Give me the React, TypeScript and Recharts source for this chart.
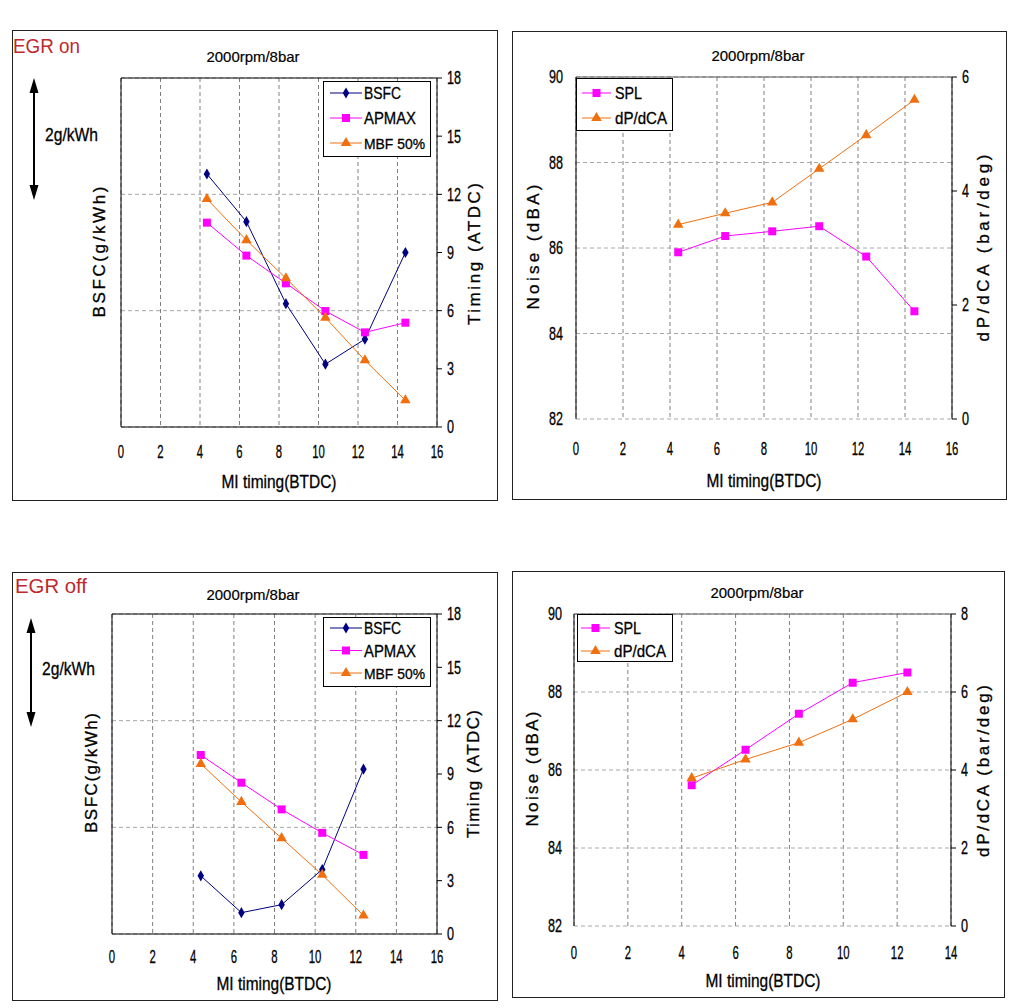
import React from 'react';
import { LineChart, Line, XAxis, YAxis, CartesianGrid, ReferenceLine, Legend, Symbols } from 'recharts';

const FONT = "'Liberation Sans', Arial, sans-serif";

const BSFC_C = '#000080';
const MAG_C = '#ff00ff';
const ORG_C = '#f07010';

// ---------- EGR on ----------
const egrOnMi = [4.35, 6.35, 8.35, 10.35, 12.35, 14.4];
// BSFC relative to an arbitrary baseline (g/kWh), gridlines every 2 g/kWh
const egrOnBsfc = [4.35, 3.53, 2.12, 1.08, 1.51, 3.0];
const egrOnApmax = [10.54, 8.84, 7.41, 5.98, 4.88, 5.38];
const egrOnMbf50 = [11.76, 9.64, 7.67, 5.64, 3.44, 1.38];
const egrOnSpl = [85.9, 86.28, 86.39, 86.51, 85.8, 84.52];
const egrOnDpdca = [3.41, 3.61, 3.8, 4.39, 4.98, 5.6];

// ---------- EGR off ----------
const egrOffMi = [4.37, 6.37, 8.35, 10.35, 12.38];
const egrOffBsfc = [1.09, 0.4, 0.55, 1.21, 3.09];
const egrOffApmax = [10.07, 8.51, 7.01, 5.69, 4.45];
const egrOffMbf50 = [9.57, 7.43, 5.39, 3.33, 1.04];
const egrOffSpl = [85.61, 86.52, 87.44, 88.24, 88.5];
const egrOffDpdca = [3.79, 4.27, 4.7, 5.3, 6.0];

// ---------- ticks ----------
const xTicks16 = [0, 2, 4, 6, 8, 10, 12, 14, 16];
const xTicks14 = [0, 2, 4, 6, 8, 10, 12, 14];
const bsfcTicks = [0, 2, 4, 6];
const timingTicks = [0, 3, 6, 9, 12, 15, 18];
const noiseTicks = [82, 84, 86, 88, 90];
const dpTicks6 = [0, 2, 4, 6];
const dpTicks8 = [0, 2, 4, 6, 8];

const egrOnRows = egrOnMi.map((x, i) => ({
  x,
  bsfc: egrOnBsfc[i],
  apmax: egrOnApmax[i],
  mbf50: egrOnMbf50[i],
  spl: egrOnSpl[i],
  dpdca: egrOnDpdca[i],
}));
const egrOffRows = egrOffMi.map((x, i) => ({
  x,
  bsfc: egrOffBsfc[i],
  apmax: egrOffApmax[i],
  mbf50: egrOffMbf50[i],
  spl: egrOffSpl[i],
  dpdca: egrOffDpdca[i],
}));

const S_BSFC = { key: 'bsfc', name: 'BSFC', w: 37, fs: 16.5, color: BSFC_C, shape: 'diamond', size: 36, axis: 'l' };
const S_APMAX = { key: 'apmax', name: 'APMAX', w: 52, fs: 16.5, color: MAG_C, shape: 'square', size: 64, axis: 'r' };
const S_MBF = { key: 'mbf50', name: 'MBF 50%', w: 61, fs: 14.8, color: ORG_C, shape: 'triangle', size: 48, axis: 'r' };
const S_SPL = { key: 'spl', name: 'SPL', w: 27, fs: 16.5, color: MAG_C, shape: 'square', size: 64, axis: 'l' };
const S_DP = { key: 'dpdca', name: 'dP/dCA', w: 52, fs: 16.5, color: ORG_C, shape: 'triangle', size: 48, axis: 'r' };

const TXT = { fontFamily: FONT, fill: '#000', stroke: '#000', strokeWidth: 0.3 };

const XTick = (props: any) => {
  const { x, y, payload } = props;
  const s = String(payload.value);
  return (
    <text x={x} y={y} dy="0.71em" textAnchor="middle" fontSize={18} {...TXT}
      textLength={s.length * 6.3} lengthAdjust="spacingAndGlyphs">{s}</text>
  );
};
const YTick = (props: any) => {
  const { x, y, payload, textAnchor } = props;
  const s = String(payload.value);
  return (
    <text x={x} y={y} dy="0.355em" textAnchor={textAnchor} fontSize={18} {...TXT}
      textLength={s.length * 7} lengthAdjust="spacingAndGlyphs">{s}</text>
  );
};
const EmptyTick = () => <g />;

const rotLabel = (text: string, len: number, x: number, y: number) => () => (
  <text x={x} y={y} transform={`rotate(-90 ${x} ${y})`} textAnchor="middle" dominantBaseline="central"
    fontSize={17} {...TXT} textLength={len} lengthAdjust="spacing">{text}</text>
);
const xLabel = (text: string, x: number, y: number) => () => (
  <text x={x} y={y} textAnchor="middle" fontSize={18} {...TXT}
    textLength={115} lengthAdjust="spacingAndGlyphs">{text}</text>
);

const makeDot = (s: any) => (props: any) => {
  const { cx, cy, index } = props;
  if (cx == null || cy == null) return <g key={`e-${index}`} />;
  return <Symbols key={`d-${s.key}-${index}`} cx={cx} cy={cy} type={s.shape} size={s.size} fill={s.color} stroke="none" />;
};

const LegendBox = ({ cfg, series }: any) => (
  <div style={{ position: 'relative', width: cfg.width, height: cfg.height, border: '1px solid #000', boxSizing: 'border-box', background: '#fff' }}>
    <svg width={cfg.width} height={cfg.height} style={{ position: 'absolute', left: -1, top: -1 }}>
      {series.map((s: any, i: number) => (
        <g key={s.key}>
          <line x1={cfg.iconX} y1={cfg.rows[i]} x2={cfg.iconX + cfg.iconW} y2={cfg.rows[i]} stroke={s.color} strokeWidth={1} />
          <Symbols cx={cfg.iconX + cfg.iconW / 2} cy={cfg.rows[i]} type={s.shape} size={s.size} fill={s.color} />
          <text x={cfg.textX} y={cfg.rows[i] + 6} fontSize={s.fs} {...TXT}
            textLength={s.w} lengthAdjust="spacingAndGlyphs">{s.name}</text>
        </g>
      ))}
    </svg>
  </div>
);

const Panel = ({ cfg }: any) => {
  const boxed = cfg.boxed;
  return (
    <div style={{ position: 'absolute', left: cfg.left, top: cfg.top, width: cfg.width, height: cfg.height, border: '1px solid #222', boxSizing: 'border-box' }}>
      <div style={{ position: 'absolute', left: -1, top: -1 }}>
        <LineChart width={cfg.width} height={cfg.height} data={cfg.data} margin={cfg.margin}>
          <CartesianGrid yAxisId="l" horizontal={false} stroke="#808080" strokeDasharray="4 3" />
          <CartesianGrid yAxisId="l" vertical={false} stroke="#a8a8a8" strokeDasharray="4 3" />
          <XAxis type="number" dataKey="x" domain={cfg.xDomain} ticks={cfg.xTicks} interval={0} height={30}
            axisLine={boxed ? { stroke: '#000' } : false} tickLine={false} tickSize={0} tickMargin={cfg.xTickMargin}
            tick={<XTick />} label={xLabel('MI timing(BTDC)', cfg.xTitle[0], cfg.xTitle[1])} />
          <YAxis yAxisId="l" orientation="left" width={60} domain={cfg.lDomain} ticks={cfg.lTicks} interval={0}
            allowDataOverflow axisLine={{ stroke: '#000' }} tickLine={false} tickSize={0} tickMargin={cfg.lTickMargin}
            tick={cfg.lLabels ? <YTick /> : <EmptyTick />} label={rotLabel(cfg.lTitle[0], cfg.lTitle[1], cfg.lTitle[2], cfg.lTitle[3])} />
          <YAxis yAxisId="r" orientation="right" width={45} domain={cfg.rDomain} ticks={cfg.rTicks} interval={0}
            allowDataOverflow axisLine={{ stroke: '#000' }} tickLine={{ stroke: '#000' }} tickSize={5} tickMargin={5}
            tick={<YTick />} label={rotLabel(cfg.rTitle[0], cfg.rTitle[1], cfg.rTitle[2], cfg.rTitle[3])} />
          <ReferenceLine yAxisId="r" y={cfg.rDomain[1]} stroke={boxed ? '#000' : '#555'} />
          {cfg.series.map((s: any) => (
            <Line key={s.key} yAxisId={s.axis} dataKey={s.key} name={s.name} stroke={s.color} strokeWidth={1}
              dot={makeDot(s)} activeDot={false} isAnimationActive={false} type="linear" />
          ))}
          <Legend layout="vertical" align="center" verticalAlign="middle"
            wrapperStyle={{ left: cfg.legend.left, top: cfg.legend.top, width: cfg.legend.width, height: cfg.legend.height }}
            content={() => <LegendBox cfg={cfg.legend} series={cfg.series} />} />
        </LineChart>
      </div>
    </div>
  );
};

const panels = [
  {
    left: 12, top: 30, width: 486, height: 471,
    margin: { top: 48, right: 16, bottom: 44, left: 49 },
    data: egrOnRows, xDomain: [0, 16], xTicks: xTicks16, xTickMargin: 18,
    lDomain: [0, 6], lTicks: bsfcTicks, lLabels: false, lTickMargin: 4,
    rDomain: [0, 18], rTicks: timingTicks, boxed: true,
    series: [S_BSFC, S_APMAX, S_MBF],
    lTitle: ['BSFC(g/kWh)', 131, 87, 222], rTitle: ['Timing (ATDC)', 142, 462, 224], xTitle: [267, 458],
    legend: { left: 311, top: 51, width: 108, height: 76, rows: [12, 37, 62], iconX: 7, iconW: 32, textX: 41 },
  },
  {
    left: 512, top: 31, width: 495, height: 469,
    margin: { top: 46, right: 10, bottom: 51, left: 4 },
    data: egrOnRows, xDomain: [0, 16], xTicks: xTicks16, xTickMargin: 23,
    lDomain: [82, 90], lTicks: noiseTicks, lLabels: true, lTickMargin: 13,
    rDomain: [0, 6], rTicks: dpTicks6, boxed: false,
    series: [S_SPL, S_DP],
    lTitle: ['Noise (dBA)', 125, 21, 216], rTitle: ['dP/dCA (bar/deg)', 187, 471, 217], xTitle: [252, 456],
    legend: { left: 64, top: 47, width: 97, height: 53, rows: [15, 40], iconX: 6, iconW: 29, textX: 39 },
  },
  {
    left: 12, top: 572, width: 486, height: 429,
    margin: { top: 42, right: 16, bottom: 37, left: 40 },
    data: egrOffRows, xDomain: [0, 16], xTicks: xTicks16, xTickMargin: 16,
    lDomain: [0, 6], lTicks: bsfcTicks, lLabels: false, lTickMargin: 4,
    rDomain: [0, 18], rTicks: timingTicks, boxed: true,
    series: [S_BSFC, S_APMAX, S_MBF],
    lTitle: ['BSFC(g/kWh)', 120, 79, 201], rTitle: ['Timing (ATDC)', 128, 461, 202], xTitle: [262, 418],
    legend: { left: 311, top: 45, width: 108, height: 70, rows: [11, 33.5, 56], iconX: 7, iconW: 32, textX: 41 },
  },
  {
    left: 512, top: 571, width: 493, height: 427,
    margin: { top: 43, right: 9, bottom: 42, left: 2 },
    data: egrOffRows, xDomain: [0, 14], xTicks: xTicks14, xTickMargin: 20,
    lDomain: [82, 90], lTicks: noiseTicks, lLabels: true, lTickMargin: 12,
    rDomain: [0, 8], rTicks: dpTicks8, boxed: false,
    series: [S_SPL, S_DP],
    lTitle: ['Noise (dBA)', 115, 20, 198], rTitle: ['dP/dCA (bar/deg)', 172, 471, 200], xTitle: [251, 416],
    legend: { left: 65, top: 43, width: 96, height: 48, rows: [14, 37], iconX: 4, iconW: 29, textX: 37 },
  },
];

const Arrow = ({ x, y1, y2 }: any) => (
  <g>
    <line x1={x} y1={y1 + 12} x2={x} y2={y2 - 12} stroke="#000" strokeWidth={2} />
    <polygon points={`${x},${y1} ${x - 4.5},${y1 + 15} ${x + 4.5},${y1 + 15}`} fill="#000" />
    <polygon points={`${x},${y2} ${x - 4.5},${y2 - 15} ${x + 4.5},${y2 - 15}`} fill="#000" />
  </g>
);

const titles = [
  [253, 62], [758, 61], [253, 600], [757, 598],
];

export default function App() {
  return (
    <div style={{ position: 'absolute', left: 0, top: 0, width: 1015, height: 1008, background: '#fff', overflow: 'hidden' }}>
      {panels.map((p, i) => <Panel key={i} cfg={p} />)}
      <svg width={1015} height={1008} style={{ position: 'absolute', left: 0, top: 0, pointerEvents: 'none' }}>
        <text x={13} y={53} fontFamily={FONT} fontSize={21} fill="#c0282d" textLength={67} lengthAdjust="spacingAndGlyphs">EGR on</text>
        <text x={15} y={593} fontFamily={FONT} fontSize={21} fill="#c0282d" textLength={72} lengthAdjust="spacingAndGlyphs">EGR off</text>
        {titles.map((t, i) => (
          <text key={i} x={t[0]} y={t[1]} textAnchor="middle" fontSize={15} {...TXT} strokeWidth={0.2}
            textLength={93} lengthAdjust="spacingAndGlyphs">2000rpm/8bar</text>
        ))}
        <Arrow x={34} y1={78} y2={200} />
        <text x={71.5} y={140.5} textAnchor="middle" fontSize={18} {...TXT} textLength={53} lengthAdjust="spacingAndGlyphs">2g/kWh</text>
        <Arrow x={31} y1={618} y2={727} />
        <text x={68.5} y={674.5} textAnchor="middle" fontSize={18} {...TXT} textLength={53} lengthAdjust="spacingAndGlyphs">2g/kWh</text>
      </svg>
    </div>
  );
}
